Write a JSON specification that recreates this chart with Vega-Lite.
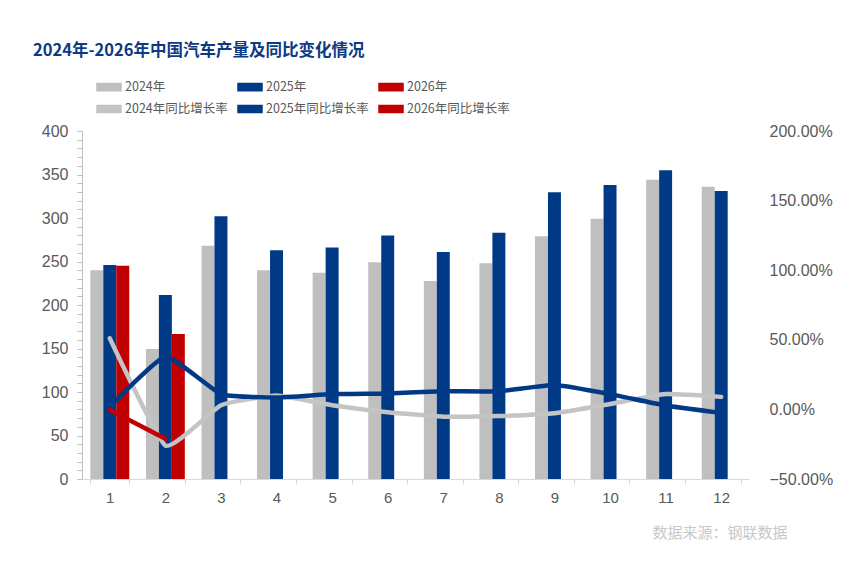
{
  "$schema": "https://vega.github.io/schema/vega-lite/v6.json",
  "width": 667,
  "height": 348,
  "autosize": "none",
  "padding": {"left": 82, "top": 131, "right": 116, "bottom": 84},
  "background": "white",
  "title": {
    "text": "2024年-2026年中国汽车产量及同比变化情况",
    "font": "Noto Sans CJK SC",
    "fontSize": 16.5,
    "fontWeight": "bold",
    "color": "#0d3a84",
    "anchor": "start",
    "frame": "group",
    "dx": -49,
    "offset": 15
  },
  "datasets": {
    "bars": [
      {"month": 1, "series": "2024年", "value": 240},
      {"month": 2, "series": "2024年", "value": 149.4},
      {"month": 3, "series": "2024年", "value": 268},
      {"month": 4, "series": "2024年", "value": 240},
      {"month": 5, "series": "2024年", "value": 237},
      {"month": 6, "series": "2024年", "value": 249},
      {"month": 7, "series": "2024年", "value": 227.6},
      {"month": 8, "series": "2024年", "value": 248},
      {"month": 9, "series": "2024年", "value": 279},
      {"month": 10, "series": "2024年", "value": 299},
      {"month": 11, "series": "2024年", "value": 344},
      {"month": 12, "series": "2024年", "value": 336},
      {"month": 1, "series": "2025年", "value": 246},
      {"month": 2, "series": "2025年", "value": 211.5},
      {"month": 3, "series": "2025年", "value": 302},
      {"month": 4, "series": "2025年", "value": 263},
      {"month": 5, "series": "2025年", "value": 266},
      {"month": 6, "series": "2025年", "value": 280},
      {"month": 7, "series": "2025年", "value": 261},
      {"month": 8, "series": "2025年", "value": 283},
      {"month": 9, "series": "2025年", "value": 329.5},
      {"month": 10, "series": "2025年", "value": 338},
      {"month": 11, "series": "2025年", "value": 355},
      {"month": 12, "series": "2025年", "value": 331},
      {"month": 1, "series": "2026年", "value": 245},
      {"month": 2, "series": "2026年", "value": 166.7}
    ],
    "lines": [
      {"month": 1, "series": "2024年同比增长率", "rate": 0.51},
      {"month": 2, "series": "2024年同比增长率", "rate": -0.26},
      {"month": 3, "series": "2024年同比增长率", "rate": 0.03},
      {"month": 4, "series": "2024年同比增长率", "rate": 0.1},
      {"month": 5, "series": "2024年同比增长率", "rate": 0.03},
      {"month": 6, "series": "2024年同比增长率", "rate": -0.02},
      {"month": 7, "series": "2024年同比增长率", "rate": -0.052},
      {"month": 8, "series": "2024年同比增长率", "rate": -0.048},
      {"month": 9, "series": "2024年同比增长率", "rate": -0.028},
      {"month": 10, "series": "2024年同比增长率", "rate": 0.039},
      {"month": 11, "series": "2024年同比增长率", "rate": 0.11},
      {"month": 12, "series": "2024年同比增长率", "rate": 0.09},
      {"month": 1, "series": "2025年同比增长率", "rate": 0.02},
      {"month": 2, "series": "2025年同比增长率", "rate": 0.38},
      {"month": 3, "series": "2025年同比增长率", "rate": 0.11},
      {"month": 4, "series": "2025年同比增长率", "rate": 0.085},
      {"month": 5, "series": "2025年同比增长率", "rate": 0.11},
      {"month": 6, "series": "2025年同比增长率", "rate": 0.115},
      {"month": 7, "series": "2025年同比增长率", "rate": 0.13},
      {"month": 8, "series": "2025年同比增长率", "rate": 0.13},
      {"month": 9, "series": "2025年同比增长率", "rate": 0.175},
      {"month": 10, "series": "2025年同比增长率", "rate": 0.11},
      {"month": 11, "series": "2025年同比增长率", "rate": 0.028},
      {"month": 12, "series": "2025年同比增长率", "rate": -0.025},
      {"month": 1, "series": "2026年同比增长率", "rate": -0.004},
      {"month": 2, "series": "2026年同比增长率", "rate": -0.21}
    ]
  },
  "encoding": {
    "x": {
      "field": "month",
      "type": "ordinal",
      "scale": {"paddingInner": 0.3, "paddingOuter": 0.15},
      "axis": {
        "labelAngle": 0,
        "labelFont": "Liberation Sans",
        "labelFontSize": 15,
        "labelColor": "#595959",
        "labelPadding": 6,
        "domainColor": "#d9d9d9",
        "tickColor": "#d9d9d9",
        "tickSize": 5,
        "tickBand": "extent",
        "title": "数据来源：钢联数据",
        "titleFont": "Noto Sans CJK SC",
        "titleFontSize": 15,
        "titleFontWeight": "normal",
        "titleColor": "#c8c8c8",
        "titleAlign": "right",
        "titleBaseline": "middle",
        "titleX": 705,
        "titleY": 53
      }
    },
    "color": {
      "field": "series",
      "type": "nominal",
      "scale": {
        "domain": ["2024年", "2025年", "2026年", "2024年同比增长率", "2025年同比增长率", "2026年同比增长率"],
        "range": ["#bfbfbf", "#003a87", "#c00000", "#c4c4c4", "#003a87", "#c00000"]
      },
      "legend": {
        "title": null,
        "orient": "none",
        "direction": "horizontal",
        "legendX": 14,
        "legendY": -57,
        "columns": 3,
        "gridAlign": "all",
        "columnPadding": 7,
        "rowPadding": 2,
        "padding": 0,
        "symbolType": "M-1,-0.3H1V0.3H-1Z",
        "symbolSize": 576,
        "labelFont": "Noto Sans CJK SC",
        "labelFontSize": 12.5,
        "labelColor": "#595959",
        "labelOffset": 3,
        "labelLimit": 200,
        "encode": {
          "symbols": {
            "update": {
              "fill": {"scale": "color", "field": "value"},
              "stroke": {"value": "transparent"},
              "opacity": {"value": 1},
              "fillOpacity": {"value": 1}
            }
          }
        }
      }
    }
  },
  "layer": [
    {
      "data": {"name": "bars"},
      "mark": {"type": "bar"},
      "encoding": {
        "xOffset": {
          "field": "series",
          "type": "nominal",
          "scale": {"domain": ["2024年", "2025年", "2026年"], "paddingInner": 0, "paddingOuter": 0}
        },
        "y": {
          "field": "value",
          "type": "quantitative",
          "scale": {"domain": [0, 400], "nice": false},
          "axis": {
            "orient": "left",
            "title": null,
            "grid": false,
            "values": [0, 10, 20, 30, 40, 50, 60, 70, 80, 90, 100, 110, 120, 130, 140, 150, 160, 170, 180, 190, 200, 210, 220, 230, 240, 250, 260, 270, 280, 290, 300, 310, 320, 330, 340, 350, 360, 370, 380, 390, 400],
            "labelExpr": "datum.value % 50 === 0 ? datum.label : ''",
            "labelOverlap": false,
            "labelFlush": false,
            "labelBound": false,
            "labelFont": "Liberation Sans",
            "labelFontSize": 16,
            "labelColor": "#595959",
            "labelPadding": 9,
            "domainColor": "#bfbfbf",
            "tickColor": "#bfbfbf",
            "tickSize": 5
          }
        }
      }
    },
    {
      "data": {"name": "lines"},
      "mark": {"type": "line", "strokeWidth": 4.5, "interpolate": "cardinal", "tension": 0.6, "strokeCap": "round", "strokeJoin": "round"},
      "encoding": {
        "y": {
          "field": "rate",
          "type": "quantitative",
          "scale": {"domain": [-0.5, 2], "nice": false},
          "axis": {
            "orient": "right",
            "title": null,
            "grid": false,
            "values": [-0.5, 0, 0.5, 1, 1.5, 2],
            "format": ".2%",
            "labelOverlap": false,
            "labelFlush": false,
            "labelFont": "Liberation Sans",
            "labelFontSize": 16,
            "labelColor": "#595959",
            "labelPadding": 20,
            "domain": false,
            "ticks": false
          }
        }
      }
    }
  ],
  "resolve": {"scale": {"y": "independent"}},
  "config": {
    "view": {"stroke": null}
  }
}
